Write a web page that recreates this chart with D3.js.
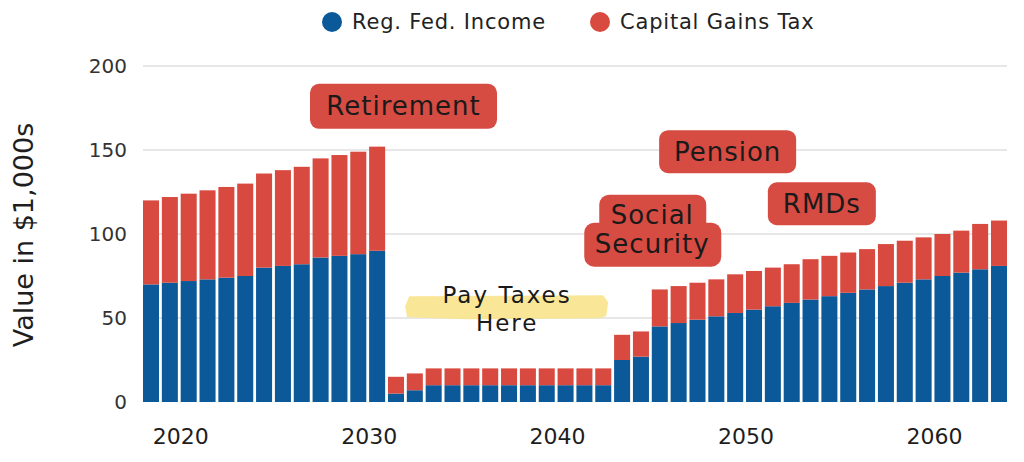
<!DOCTYPE html>
<html>
<head>
<meta charset="utf-8">
<script src="https://cdn.jsdelivr.net/npm/d3@7"></script>
<style>
  body { margin: 0; background: #fff; }
  text { font-family: "DejaVu Sans", sans-serif; }
</style>
</head>
<body>
<div id="chart"></div>
<script>
// categories (one bar per year)
var years = [2018, 2019, 2020, 2021, 2022, 2023, 2024, 2025, 2026, 2027, 2028, 2029, 2030,
             2031, 2032, 2033, 2034, 2035, 2036, 2037, 2038, 2039, 2040, 2041, 2042,
             2043, 2044, 2045, 2046, 2047, 2048, 2049, 2050, 2051, 2052, 2053, 2054,
             2055, 2056, 2057, 2058, 2059, 2060, 2061, 2062, 2063];

// series values, in $1,000s
var regFedIncome = [70, 71, 72, 73, 74, 75, 80, 81, 82, 86, 87, 88, 90,
                    5, 7, 10, 10, 10, 10, 10, 10, 10, 10, 10, 10,
                    25, 27, 45, 47, 49, 51, 53, 55, 57, 59, 61, 63,
                    65, 67, 69, 71, 73, 75, 77, 79, 81];
var capitalGainsTax = [50, 51, 52, 53, 54, 55, 56, 57, 58, 59, 60, 61, 62,
                       10, 10, 10, 10, 10, 10, 10, 10, 10, 10, 10, 10,
                       15, 15, 22, 22, 22, 22, 23, 23, 23, 23, 24, 24,
                       24, 24, 25, 25, 25, 25, 25, 27, 27];

var seriesNames = ["Reg. Fed. Income", "Capital Gains Tax"];
var seriesColors = ["#0b5999", "#d8493f"];

var xTickYears = [2020, 2030, 2040, 2050, 2060];
var yTicks = [0, 50, 100, 150, 200];

// callouts, placed in data units (year, value)
var notes = [
  {lines: ["Retirement"], year: 2031.4, value: 176, w: 187, h: 45},
  {lines: ["Pension"], year: 2048.6, value: 149, w: 137, h: 43},
  {lines: ["RMDs"], year: 2053.6, value: 118, w: 108, h: 43}
];

var width = 1024, height = 462;
var margin = {top: 66, right: 17, bottom: 60, left: 143};

var svg = d3.select("#chart").append("svg")
    .attr("width", width)
    .attr("height", height);

var table = years.map(function (yr, i) {
    return {year: yr, reg: regFedIncome[i], cap: capitalGainsTax[i]};
});

var x = d3.scaleBand()
    .domain(years)
    .range([margin.left, width - margin.right])
    .paddingInner(0.15)
    .paddingOuter(0);

var y = d3.scaleLinear()
    .domain([0, 200])
    .range([402, margin.top]);

// fractional year position, for the callouts
var xi = d3.scaleLinear()
    .domain([years[0], years[years.length - 1]])
    .range([x(years[0]) + x.bandwidth() / 2, x(years[years.length - 1]) + x.bandwidth() / 2]);

// gridlines
svg.append("g")
    .selectAll("line")
    .data(yTicks.slice(1))
    .enter().append("line")
    .attr("x1", margin.left)
    .attr("x2", width - margin.right)
    .attr("y1", function (d) { return y(d); })
    .attr("y2", function (d) { return y(d); })
    .attr("stroke", "#cfcfcf")
    .attr("stroke-width", 1.2);

// y axis labels
var yAxis = svg.append("g")
    .attr("transform", "translate(" + (margin.left - 16) + ",0)")
    .call(d3.axisLeft(y).tickValues(yTicks).tickSize(0).tickPadding(0));
yAxis.select(".domain").remove();
yAxis.selectAll("text")
    .attr("font-size", 20)
    .attr("fill", "#333")
    .style("font-family", "'DejaVu Sans', sans-serif");

// x axis labels
var xAxis = svg.append("g")
    .attr("transform", "translate(0,402)")
    .call(d3.axisBottom(x).tickValues(xTickYears).tickSize(0).tickPadding(26));
xAxis.select(".domain").remove();
xAxis.selectAll("text")
    .attr("font-size", 22)
    .attr("dx", -8)
    .attr("fill", "#1e1e1e")
    .style("font-family", "'DejaVu Sans', sans-serif");

// y axis title
svg.append("text")
    .attr("transform", "translate(33,235) rotate(-90)")
    .attr("text-anchor", "middle")
    .attr("font-size", 27)
    .attr("fill", "#1e1e1e")
    .text("Value in $1,000s");

// stacked bars
var stack = d3.stack().keys(["reg", "cap"]);
var layers = stack(table);

svg.append("g")
    .selectAll("g")
    .data(layers)
    .enter().append("g")
    .attr("fill", function (d, i) { return seriesColors[i]; })
    .selectAll("rect")
    .data(function (d) { return d; })
    .enter().append("rect")
    .attr("x", function (d) { return x(d.data.year); })
    .attr("y", function (d) { return y(d[1]); })
    .attr("width", x.bandwidth())
    .attr("height", function (d) { return y(d[0]) - y(d[1]); });

// legend
var legendX = [332, 600];
var legend = svg.append("g")
    .selectAll("g")
    .data(seriesNames)
    .enter().append("g")
    .attr("transform", function (d, i) { return "translate(" + legendX[i] + ",22)"; });
legend.append("circle")
    .attr("r", 10)
    .attr("fill", function (d, i) { return seriesColors[i]; });
legend.append("text")
    .attr("x", 20)
    .attr("y", 7)
    .attr("font-size", 21)
    .attr("letter-spacing", 0.8)
    .attr("fill", "#222")
    .text(function (d) { return d; });

// "Pay Taxes Here" highlighter
var hx = xi(2036.9), hy = y(54.6);
svg.append("path")
    .attr("d", "M" + (hx - 98) + "," + (hy - 14) +
        " L" + (hx + 96) + "," + (hy - 15) +
        " L" + (hx + 101) + "," + (hy - 8) +
        " L" + (hx + 99) + "," + (hy + 6) +
        " L" + (hx + 92) + "," + (hy + 8) +
        " L" + (hx - 40) + "," + (hy + 9) +
        " L" + (hx - 100) + "," + (hy + 7) +
        " L" + (hx - 102) + "," + (hy - 4) + " Z")
    .attr("fill", "#f8e48c")
    .attr("opacity", 0.9);
svg.append("text")
    .attr("x", hx)
    .attr("y", hy - 7)
    .attr("text-anchor", "middle")
    .attr("font-size", 23)
    .attr("letter-spacing", 2)
    .attr("fill", "#1a1a1a")
    .text("Pay Taxes");
svg.append("text")
    .attr("x", hx)
    .attr("y", hy + 21)
    .attr("text-anchor", "middle")
    .attr("font-size", 23)
    .attr("letter-spacing", 2)
    .attr("fill", "#1a1a1a")
    .text("Here");

// red callout boxes
var boxFill = "#d64b42";
var note = svg.append("g")
    .selectAll("g")
    .data(notes)
    .enter().append("g")
    .attr("transform", function (d) { return "translate(" + xi(d.year) + "," + y(d.value) + ")"; });
note.append("rect")
    .attr("x", function (d) { return -d.w / 2; })
    .attr("y", function (d) { return -d.h / 2; })
    .attr("width", function (d) { return d.w; })
    .attr("height", function (d) { return d.h; })
    .attr("rx", 9)
    .attr("fill", boxFill);
note.append("text")
    .attr("text-anchor", "middle")
    .attr("dy", 9)
    .attr("font-size", 26)
    .attr("letter-spacing", 1)
    .attr("fill", "#1a1a1a")
    .text(function (d) { return d.lines[0]; });

// Social Security: two stacked boxes merged into one shape
var sx = xi(2044.6), sy = y(102);
var ss = svg.append("g").attr("transform", "translate(" + sx + "," + sy + ")");
ss.append("rect")
    .attr("x", -53).attr("y", -36).attr("width", 107).attr("height", 42)
    .attr("rx", 10).attr("fill", boxFill);
ss.append("rect")
    .attr("x", -68).attr("y", -8).attr("width", 137).attr("height", 44)
    .attr("rx", 10).attr("fill", boxFill);
ss.append("text")
    .attr("text-anchor", "middle")
    .attr("y", -7)
    .attr("font-size", 26)
    .attr("letter-spacing", 1)
    .attr("fill", "#1a1a1a")
    .text("Social");
ss.append("text")
    .attr("text-anchor", "middle")
    .attr("y", 22)
    .attr("font-size", 26)
    .attr("letter-spacing", 1)
    .attr("fill", "#1a1a1a")
    .text("Security");
</script>
</body>
</html>
